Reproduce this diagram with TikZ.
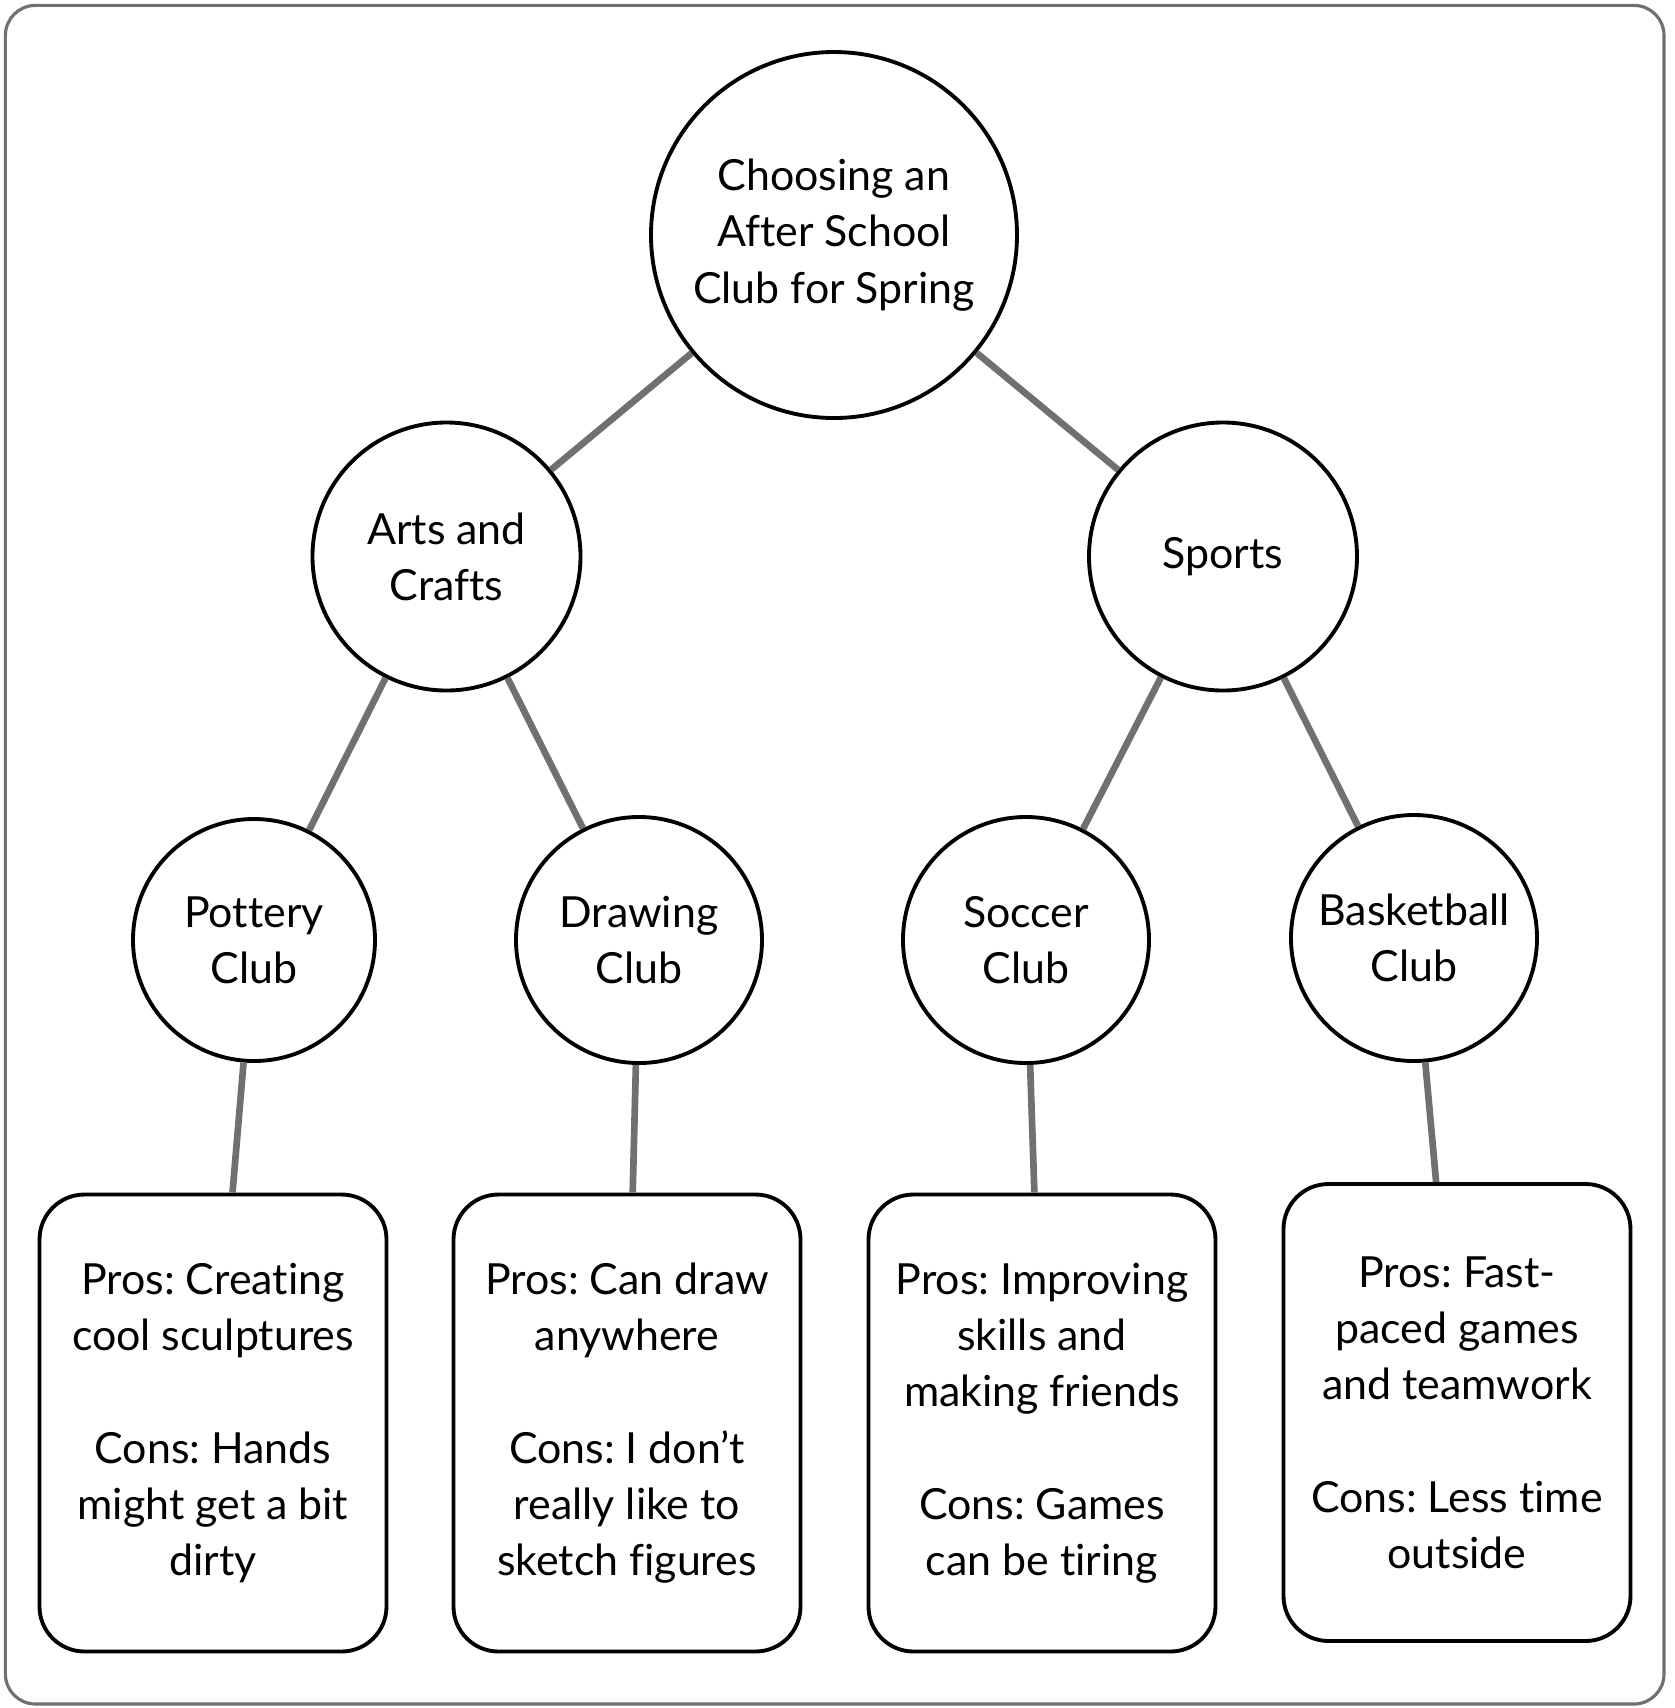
\documentclass[tikz,border=0pt]{standalone}
\usepackage{fontspec}
\setmainfont{Lato}[Ligatures=NoCommon]
\usepackage{tikz}
\usetikzlibrary{positioning}
\definecolor{linegray}{HTML}{707070}
\frenchspacing

\tikzset{
  topic/.style={circle, draw=black, line width=1.1pt, inner sep=0pt, align=center, font=\fontsize{12.2}{16}\selectfont},
  notebox/.style={draw=black, line width=1.1pt, rounded corners=0.45cm, minimum width=3.47cm, minimum height=4.57cm, align=center, font=\fontsize{12.2}{16}\selectfont},
  link/.style={draw=linegray, line width=1.9pt}
}

\begin{document}
\begin{tikzpicture}
        \useasboundingbox (0,0) rectangle (16.75,-17.08);
        \draw[linegray, line width=0.9pt, rounded corners=0.3cm] (0.054,-0.054) rectangle (16.64,-17.04);

        % circles
        \node[topic, minimum size=3.66cm] (root) at (8.34,-2.35) {Choosing an\\After School\\Club for Spring};
        \node[topic, minimum size=2.68cm] (arts) at (4.465,-5.565) {Arts and\\Crafts};
        \node[topic, minimum size=2.68cm] (sports) at (12.23,-5.565) {Sports};

        \node[topic, minimum size=2.42cm] (pottery) at (2.54,-9.40) {Pottery\\Club};
        \node[topic, minimum size=2.46cm] (drawing) at (6.39,-9.40) {Drawing\\Club};
        \node[topic, minimum size=2.46cm] (soccer) at (10.26,-9.40) {Soccer\\Club};
        \node[topic, minimum size=2.46cm] (basketball) at (14.14,-9.38) {Basketball\\Club};

        % pros and cons
        \node[notebox] (potterybox) at (2.13,-14.23) {Pros: Creating\\cool sculptures\\[16pt]Cons: Hands\\might get a bit\\dirty};
        \node[notebox] (drawingbox) at (6.27,-14.23) {Pros: Can draw\\anywhere\\[16pt]Cons: I don’t\\really like to\\sketch figures};
        \node[notebox] (soccerbox) at (10.42,-14.23) {Pros: Improving\\skills and\\making friends\\[16pt]Cons: Games\\can be tiring};
        \node[notebox] (basketballbox) at (14.57,-14.125) {Pros: Fast-\\paced games\\and teamwork\\[16pt]Cons: Less time\\outside};

        \draw[link] (root) -- (arts);
        \draw[link] (root) -- (sports);
        \draw[link] (arts) -- (pottery);
        \draw[link] (arts) -- (drawing);
        \draw[link] (sports) -- (soccer);
        \draw[link] (sports) -- (basketball);

        \draw[link] (pottery) -- (potterybox);
        \draw[link] (drawing) -- (drawingbox);
        \draw[link] (soccer) -- (soccerbox);
        \draw[link] (basketball) -- (basketballbox);
\end{tikzpicture}
\end{document}
